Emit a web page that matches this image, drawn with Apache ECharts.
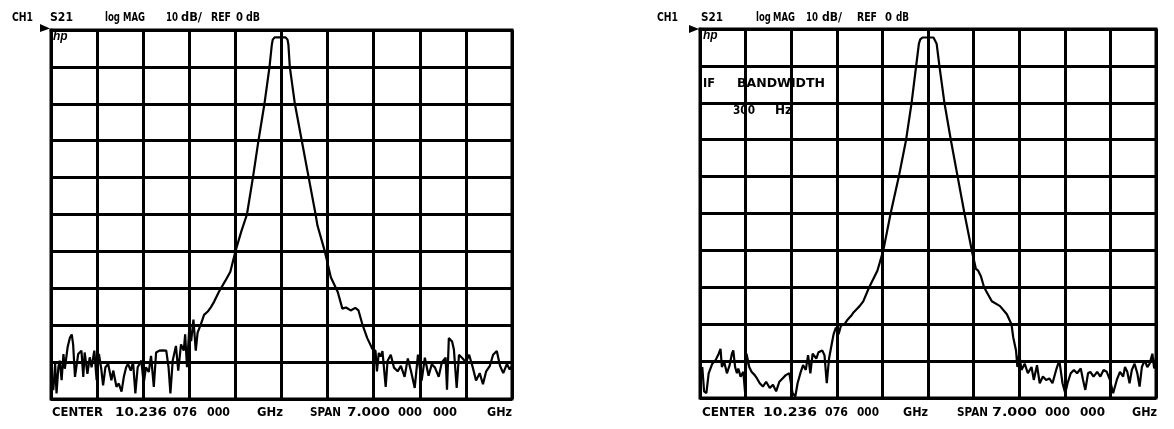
<!DOCTYPE html>
<html>
<head>
<meta charset="utf-8">
<script src="https://cdn.jsdelivr.net/npm/echarts@6/dist/echarts.min.js"></script>
<style>
  html, body { margin: 0; padding: 0; background: #fff; }
  #chart { width: 1174px; height: 429px; }
</style>
</head>
<body>
<div id="chart"></div>
<script>
  // x in graticule divisions (0..10 over the 7 GHz span), y in dB (REF 0 dB, 10 dB/div)
  const divTicks = [0, 1, 2, 3, 4, 5, 6, 7, 8, 9, 10]
  const dbTicks = [-100, -90, -80, -70, -60, -50, -40, -30, -20, -10, 0]

  // left screen: S21 trace
  const leftTrace = [
    [0.0, -92], [0.05, -97.6], [0.09, -90.5], [0.12, -98.5], [0.16, -91.4], [0.19, -89.6], [0.23, -94.9],
    [0.27, -87.8], [0.30, -91.8], [0.36, -86.0], [0.41, -83.4], [0.45, -82.5], [0.48, -85.2], [0.52, -94.0],
    [0.59, -87.8], [0.66, -86.9], [0.70, -94.0], [0.73, -87.4], [0.79, -93.2], [0.84, -88.7], [0.88, -91.4],
    [0.94, -86.9], [0.99, -94.9], [1.04, -87.8], [1.09, -91.8], [1.13, -96.3], [1.18, -91.4], [1.24, -90.5],
    [1.31, -94.9], [1.35, -92.3], [1.42, -96.7], [1.47, -95.8], [1.53, -98.0], [1.58, -94.0], [1.63, -91.4],
    [1.67, -90.5], [1.73, -92.3], [1.78, -90.0], [1.83, -98.5], [1.88, -91.4], [1.96, -89.6], [2.01, -95.8],
    [2.06, -91.4], [2.12, -92.7], [2.17, -88.3], [2.23, -96.7], [2.28, -87.4], [2.35, -86.9], [2.42, -86.8],
    [2.50, -86.9], [2.55, -91.4], [2.59, -98.5], [2.64, -89.6], [2.71, -85.6], [2.76, -92.3], [2.82, -85.2],
    [2.88, -86.9], [2.91, -82.5], [2.95, -91.4], [3.00, -80.7], [3.04, -84.3], [3.09, -78.5], [3.14, -86.9],
    [3.18, -82.0], [3.25, -79.8], [3.32, -77.2], [3.40, -76.3], [3.47, -75.1], [3.54, -73.6], [3.64, -71],
    [3.78, -68], [3.89, -65.5], [4.0, -60], [4.13, -54.5], [4.25, -50], [4.38, -40], [4.50, -30], [4.63, -20],
    [4.74, -10], [4.79, -4], [4.81, -2.6], [4.85, -2], [5.09, -2], [5.13, -2.6], [5.15, -4], [5.18, -10],
    [5.29, -20], [5.44, -30], [5.59, -40], [5.74, -50], [5.78, -53], [5.94, -60], [6.07, -67], [6.22, -71],
    [6.32, -75.5], [6.40, -75.2], [6.50, -76], [6.60, -75.3], [6.67, -76], [6.76, -80], [6.86, -83.5],
    [6.97, -86.4], [7.04, -87], [7.07, -92.5], [7.11, -87.5], [7.15, -88.5], [7.19, -87], [7.26, -96.7],
    [7.30, -89.7], [7.37, -88], [7.44, -91.5], [7.52, -92.5], [7.59, -91], [7.67, -94], [7.74, -89],
    [7.81, -92.5], [7.89, -97], [7.96, -88], [8.04, -95], [8.11, -88.8], [8.19, -93.7], [8.26, -90.6],
    [8.33, -91.5], [8.41, -94], [8.48, -90], [8.56, -88.8], [8.59, -97.5], [8.63, -83.5], [8.70, -84.4],
    [8.74, -86.6], [8.80, -97], [8.85, -88], [8.93, -89], [9.0, -90], [9.07, -88], [9.15, -91.5], [9.22, -95],
    [9.30, -93], [9.37, -96], [9.44, -92.5], [9.52, -91], [9.59, -88], [9.67, -87], [9.74, -91], [9.81, -93],
    [9.89, -90.5], [9.95, -92], [10, -91]
  ]

  // right screen: same filter, IF bandwidth 300 Hz
  const rightTrace = [
    [0.0, -95], [0.05, -91.6], [0.09, -98.2], [0.14, -98.7], [0.19, -93.3], [0.27, -90.7], [0.34, -89.8],
    [0.41, -88], [0.45, -86.7], [0.48, -91.6], [0.53, -90.2], [0.59, -93.3], [0.65, -91.1], [0.70, -88],
    [0.73, -87.1], [0.77, -91.6], [0.81, -93.3], [0.84, -92], [0.89, -94.2], [0.95, -92.9], [0.99, -98.7],
    [1.02, -88], [1.08, -91.6], [1.13, -92.9], [1.20, -93.8], [1.25, -94.7], [1.31, -96], [1.38, -96.9],
    [1.45, -95.6], [1.53, -97.3], [1.60, -96.4], [1.67, -98.2], [1.74, -95.6], [1.81, -94.7], [1.88, -93.8],
    [1.96, -93.3], [2.03, -98.7], [2.09, -99.6], [2.14, -96], [2.21, -92.9], [2.26, -91.1], [2.32, -92.4],
    [2.37, -88.4], [2.42, -93.3], [2.47, -88], [2.55, -89.3], [2.60, -87.6], [2.68, -87.1], [2.73, -88.4],
    [2.78, -96], [2.83, -89.3], [2.89, -85.3], [2.93, -82.7], [2.98, -80.9], [3.04, -82.7], [3.09, -80.4],
    [3.17, -80], [3.24, -78.7], [3.31, -77.8], [3.36, -76.9], [3.43, -76], [3.50, -75.1], [3.58, -73.8],
    [3.71, -70], [3.89, -65.5], [4.02, -60], [4.18, -50], [4.36, -40], [4.52, -30], [4.64, -20], [4.74, -10],
    [4.80, -4], [4.83, -2.8], [4.88, -2.3], [5.12, -2.3], [5.16, -2.8], [5.19, -4], [5.25, -10], [5.36, -20],
    [5.50, -30], [5.65, -40], [5.80, -50], [5.96, -60], [6.05, -65], [6.10, -65.5], [6.16, -67], [6.23, -70],
    [6.32, -72], [6.40, -73.8], [6.58, -75.1], [6.73, -77.3], [6.83, -80], [6.87, -83.6], [6.93, -87.1],
    [6.96, -91.6], [7.0, -88], [7.05, -92.4], [7.12, -90.7], [7.19, -93.3], [7.27, -91.6], [7.32, -95.1],
    [7.39, -91.1], [7.45, -96], [7.52, -94.2], [7.59, -95.1], [7.66, -94.7], [7.73, -96], [7.81, -92.4],
    [7.88, -89.8], [7.95, -96], [8.01, -98.7], [8.06, -96], [8.13, -93.3], [8.20, -92.4], [8.27, -93.3],
    [8.35, -92], [8.40, -95.1], [8.45, -97.8], [8.51, -93.3], [8.56, -92.9], [8.63, -94.2], [8.71, -92.9],
    [8.78, -94.2], [8.85, -92.4], [8.92, -92.9], [8.99, -95.1], [9.06, -98.7], [9.14, -95.1], [9.21, -92.9],
    [9.28, -94.2], [9.32, -91.6], [9.37, -92.9], [9.42, -96], [9.47, -92.4], [9.53, -90.7], [9.59, -93.3],
    [9.64, -96.9], [9.69, -91.6], [9.75, -89.8], [9.81, -91.6], [9.86, -90.7], [9.92, -88], [9.96, -92], [10, -89]
  ]

  // screen annotations: [text, left x, centre y, width on screen, font size]
  const leftLabels = [
    ['CH1', 12, 18, 21, 13], ['S21', 50, 18, 23, 13], ['log', 105, 18, 15, 13], ['MAG', 123, 18, 22, 13],
    ['10', 166, 18, 12, 13], ['dB/', 181, 18, 21, 13], ['REF', 211, 18, 20, 13], ['0', 236, 18, 7, 13],
    ['dB', 246, 18, 14, 13],
    ['CENTER', 52, 413, 51, 13], ['10.236', 115, 413, 52, 13], ['076', 173, 413, 24, 13], ['000', 207, 413, 23, 13],
    ['GHz', 257, 413, 26, 13], ['SPAN', 310, 413, 31, 13], ['7.000', 347, 413, 43, 13], ['000', 398, 413, 24, 13],
    ['000', 433, 413, 24, 13], ['GHz', 487, 413, 25, 13]
  ]
  const rightLabels = [
    ['CH1', 657, 18, 21, 13], ['S21', 701, 18, 22, 13], ['log', 756, 18, 14, 13], ['MAG', 773, 18, 21, 13],
    ['10', 806, 18, 12, 13], ['dB/', 822, 18, 20, 13], ['REF', 857, 18, 20, 13], ['0', 885, 18, 7, 13],
    ['dB', 896, 18, 13, 13],
    ['IF', 703, 84, 12, 13], ['BANDWIDTH', 737, 84, 88, 13], ['300', 733, 111, 22, 13], ['Hz', 775, 111, 17, 13],
    ['CENTER', 702, 413, 53, 13], ['10.236', 763, 413, 54, 13], ['076', 825, 413, 23, 13], ['000', 857, 413, 22, 13],
    ['GHz', 903, 413, 25, 13], ['SPAN', 957, 413, 31, 13], ['7.000', 992, 413, 45, 13], ['000', 1045, 413, 25, 13],
    ['000', 1080, 413, 25, 13], ['GHz', 1132, 413, 25, 13]
  ]

  var chart = echarts.init(document.getElementById('chart'))
  const ink = '#000'
  const measureCtx = document.createElement('canvas').getContext('2d')

  function makeX(idx) {
    return {
      type: 'value', gridIndex: idx, min: divTicks[0], max: divTicks[divTicks.length - 1], interval: 1,
      axisLabel: { show: false }, axisTick: { show: false },
      axisLine: { show: true, lineStyle: { color: ink, width: 3 } },
      splitLine: { show: true, lineStyle: { color: ink, width: 3 } }
    }
  }
  function makeY(idx) {
    return {
      type: 'value', gridIndex: idx, min: dbTicks[0], max: dbTicks[dbTicks.length - 1], interval: 10,
      axisLabel: { show: false }, axisTick: { show: false },
      axisLine: { show: true, lineStyle: { color: ink, width: 3 } },
      splitLine: { show: true, lineStyle: { color: ink, width: 3 } }
    }
  }
  // squeeze/stretch each word of the plotter lettering to the width it has on screen
  function word(item) {
    let font = 'bold ' + item[4] + 'px "DejaVu Sans", "Liberation Sans", sans-serif'
    measureCtx.font = font
    let w = measureCtx.measureText(item[0]).width
    let sx = Math.min(1.2, Math.max(0.65, item[3] / w))
    return {
      type: 'text', x: item[1], y: item[2], scaleX: sx,
      style: { text: item[0], fill: ink, font: font, textVerticalAlign: 'middle' }
    }
  }

  let graphics = leftLabels.concat(rightLabels).map(word)
  // "hp" logo and reference position markers
  graphics.push({ type: 'text', x: 53, y: 37, style: { text: 'hp', fill: ink, font: 'italic bold 12px "Liberation Sans"', textVerticalAlign: 'middle' } })
  graphics.push({ type: 'text', x: 703, y: 36, style: { text: 'hp', fill: ink, font: 'italic bold 12px "Liberation Sans"', textVerticalAlign: 'middle' } })
  graphics.push({ type: 'polygon', shape: { points: [[40, 24], [50, 28.5], [40, 32]] }, style: { fill: ink } })
  graphics.push({ type: 'polygon', shape: { points: [[689, 25], [699, 29], [689, 33]] }, style: { fill: ink } })

  let option = {
    animation: false,
    backgroundColor: '#fff',
    grid: [
      { left: 51, top: 30, width: 461, height: 369, show: true, borderColor: ink, borderWidth: 3 },
      { left: 700, top: 29, width: 456, height: 369, show: true, borderColor: ink, borderWidth: 3 }
    ],
    xAxis: [makeX(0), makeX(1)],
    yAxis: [makeY(0), makeY(1)],
    graphic: graphics,
    series: [
      {
        name: 'S21 left', type: 'line', xAxisIndex: 0, yAxisIndex: 0, data: leftTrace,
        showSymbol: false, lineStyle: { color: ink, width: 2.2 }, z: 5
      },
      {
        name: 'S21 right', type: 'line', xAxisIndex: 1, yAxisIndex: 1, data: rightTrace,
        showSymbol: false, lineStyle: { color: ink, width: 2.2 }, z: 5
      }
    ]
  }

  chart.setOption(option)
</script>
</body>
</html>
